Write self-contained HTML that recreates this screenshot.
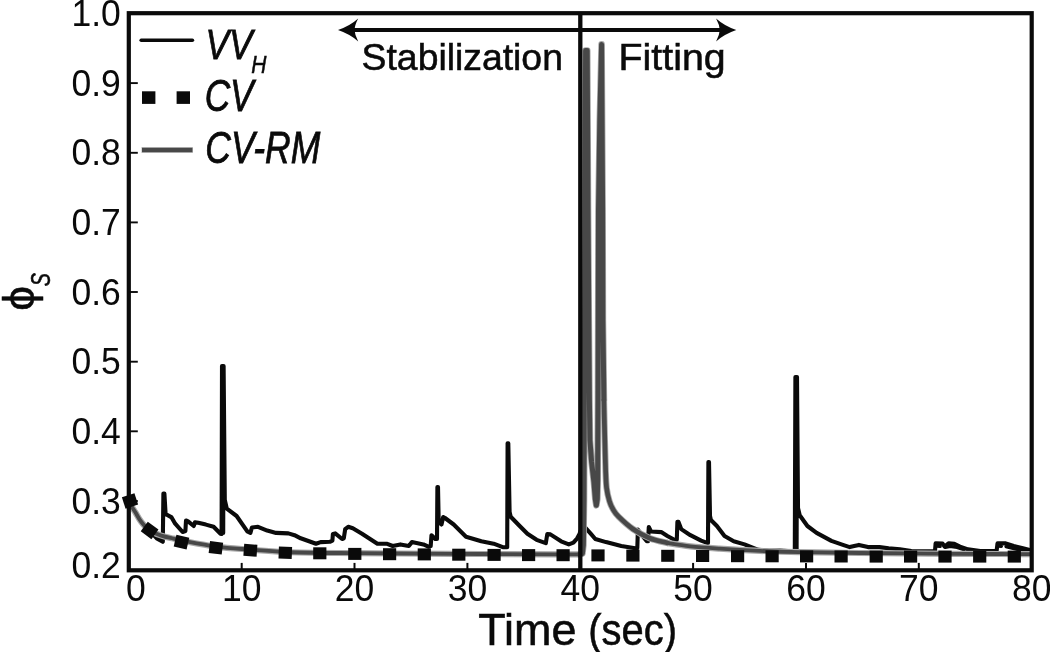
<!DOCTYPE html>
<html lang="en"><head><meta charset="utf-8"><title>Solid fraction vs time</title>
<style>
html,body{margin:0;padding:0;background:#fff;overflow:hidden}
body{width:1050px;height:652px}
svg{display:block;position:absolute;left:0;top:0;will-change:transform;-webkit-font-smoothing:antialiased}
text{font-family:"Liberation Sans",Arial,Helvetica,sans-serif;fill:#0a0a0a}
.tk{font-size:35.5px}
.it{font-style:italic}
.hv{stroke:#0a0a0a;stroke-width:0.55px}
.h2{stroke-width:0.8px}
</style></head><body>
<svg width="1050" height="652" viewBox="0 0 1050 652">
<rect x="0" y="0" width="1050" height="652" fill="#fff"/>
<g fill="none" stroke-linejoin="round" stroke-linecap="round">
<path d="M129.0,500.6 L132.0,507.0 L135.7,512.8 L141.2,521.8 L149.5,530.4 L156.8,538.4 L162.8,541.8 L163.4,493.6 L164.4,493.6 L165.6,514.0 L171.6,517.4 L175.2,523.7 L182.6,532.0 L185.4,531.0 L186.0,520.5 L188.1,521.4 L193.7,526.0 L195.0,522.3 L198.3,522.8 L205.9,524.6 L213.6,526.8 L220.5,533.7 L221.6,534.0 L222.0,366.0 L223.2,533.0 L223.6,366.0 L224.8,500.0 L226.8,508.6 L236.6,516.0 L247.3,531.4 L250.4,532.9 L251.9,527.5 L258.0,526.8 L267.2,530.6 L276.1,532.9 L288.4,533.4 L294.5,535.2 L300.7,538.3 L316.0,543.7 L320.6,542.1 L329.8,541.8 L332.4,540.6 L332.9,533.9 L335.2,533.4 L342.1,539.0 L343.8,538.3 L345.2,529.1 L348.2,526.8 L352.8,528.3 L362.0,533.7 L377.4,543.7 L386.6,543.7 L392.7,546.0 L400.4,544.4 L408.8,546.0 L411.9,542.1 L423.4,544.4 L428.4,546.7 L430.7,546.0 L431.5,535.2 L435.3,539.0 L437.0,539.0 L437.4,487.0 L438.0,487.0 L438.7,522.0 L441.5,524.5 L443.2,517.0 L445.0,518.0 L453.7,524.5 L466.0,536.7 L481.3,541.3 L493.6,543.7 L502.8,547.2 L507.2,547.2 L507.6,443.2 L508.3,443.2 L509.6,512.0 L510.7,516.8 L518.2,524.5 L527.4,533.7 L536.6,539.8 L545.8,543.2 L547.3,534.0 L550.4,534.4 L561.1,541.3 L568.8,544.4 L573.4,542.6 L577.2,538.3 L579.5,534.0 L582.0,527.0 L585.3,527.6 L590.7,533.7 L595.3,539.0 L606.0,542.1 L621.3,546.0 L635.2,548.3 L637.3,548.3 L637.9,529.6 L641.0,534.2 L646.8,541.3 L648.0,541.3 L648.8,527.0 L651.0,531.5 L661.2,532.1 L667.4,536.0 L674.3,539.8 L676.8,539.8 L677.4,521.8 L678.4,521.8 L681.2,529.1 L690.4,535.2 L701.1,540.6 L707.2,542.9 L708.0,542.9 L708.4,462.0 L709.0,462.0 L710.0,516.0 L710.9,520.0 L716.9,526.0 L724.5,536.0 L733.7,541.3 L744.5,544.4 L758.3,549.8 L769.0,550.9 L779.8,550.6 L792.0,551.3 L794.8,551.3 L795.4,377.0 L796.6,551.0 L797.0,377.0 L798.0,508.0 L799.7,515.3 L807.4,526.0 L816.6,532.9 L831.4,540.9 L842.9,544.9 L849.7,547.1 L858.9,544.9 L868.0,547.1 L879.4,547.1 L888.6,548.3 L900.0,549.4 L911.4,551.1 L935.0,551.2 L935.6,543.4 L942.6,543.6 L944.6,546.6 L948.6,543.2 L954.3,543.8 L960.0,546.6 L968.0,549.4 L980.3,551.0 L996.6,551.0 L997.5,543.4 L1005.7,543.4 L1013.7,546.0 L1022.9,548.3 L1029.7,550.0" stroke="#0a0a0a" stroke-width="4.1"/>
<path d="M936.6,546.2 L940.2,546.4 M945.4,547.4 L950.0,546.4 L957.0,547.4 L964.0,549.8 M998.6,546.2 L1001.4,546.4 M1006.0,546.6 L1012.0,548.2 L1020.0,550.0 L1029.0,551.6" stroke="#0a0a0a" stroke-width="3.2"/>
<path d="M129.0,500.6 C129.5,501.7 130.9,505.0 132.0,507.0 C133.1,509.0 134.2,510.3 135.7,512.8 C137.2,515.3 138.9,518.9 141.2,521.8 C143.5,524.7 146.1,528.1 149.5,530.4 C152.9,532.7 157.4,534.2 161.4,535.6 C165.4,537.0 170.0,537.8 173.4,538.6 C176.8,539.4 174.6,539.3 181.7,540.6 C188.8,541.9 204.6,545.1 216.0,546.6 C227.4,548.1 238.5,548.7 250.0,549.6 C261.5,550.5 270.0,551.4 285.0,552.0 C300.0,552.6 320.8,552.8 340.0,553.0 C359.2,553.2 376.7,553.3 400.0,553.5 C423.3,553.7 453.3,553.9 480.0,554.0 C506.7,554.1 543.4,554.2 560.0,554.3 C576.6,554.4 576.2,554.4 579.5,554.4" stroke="#a8a8a8" stroke-width="6.2"/>
<path d="M667.4,542.9 C671.2,543.5 681.7,545.3 690.4,546.3 C699.1,547.2 707.9,547.8 719.5,548.6 C731.1,549.4 746.6,550.3 760.0,550.9 C773.4,551.5 783.3,551.9 800.0,552.2 C816.7,552.6 838.3,552.8 860.0,553.0 C881.7,553.2 906.7,553.5 930.0,553.7 C953.3,553.9 983.3,553.9 1000.0,554.0 C1016.7,554.1 1025.0,554.1 1030.0,554.1" stroke="#a8a8a8" stroke-width="6.2"/>
<path d="M603.9,400.0 C604.0,406.7 604.5,428.3 604.8,440.0 C605.1,451.7 605.3,462.0 605.6,470.0 C605.9,478.0 606.0,482.8 606.6,488.0 C607.2,493.2 608.4,497.6 609.5,501.3 C610.6,505.0 611.9,507.4 613.4,510.0 C614.9,512.6 615.4,513.5 618.6,516.7 C621.9,519.9 627.7,525.4 632.9,529.0 C638.1,532.6 644.0,535.9 649.8,538.2 C655.5,540.5 664.5,542.1 667.4,542.9" stroke="#a8a8a8" stroke-width="6.4"/>
<path d="M579.5,554.4 L582.4,553.5 L583.4,545.0 L584.0,500.0 L584.6,300.0 L585.6,50.6 L587.2,50.6 L588.0,206.0 L588.8,320.0 L589.4,400.0 L589.9,440.0 L591.6,462.0 L593.9,482.0 L595.3,499.0 L596.3,505.3 L597.3,499.0 L597.7,480.0 L597.8,440.0 L598.0,400.0 L598.2,320.0 L598.5,210.0 L599.8,120.0 L601.6,44.4 L602.6,210.0 L602.9,320.0 L603.9,400.0" stroke="#a8a8a8" stroke-width="6.6"/>
<path d="M129.0,500.6 C129.5,501.7 130.9,505.0 132.0,507.0 C133.1,509.0 134.2,510.3 135.7,512.8 C137.2,515.3 138.9,518.9 141.2,521.8 C143.5,524.7 146.1,528.1 149.5,530.4 C152.9,532.7 157.4,534.2 161.4,535.6 C165.4,537.0 170.0,537.8 173.4,538.6 C176.8,539.4 174.6,539.3 181.7,540.6 C188.8,541.9 204.6,545.1 216.0,546.6 C227.4,548.1 238.5,548.7 250.0,549.6 C261.5,550.5 270.0,551.4 285.0,552.0 C300.0,552.6 320.8,552.8 340.0,553.0 C359.2,553.2 376.7,553.3 400.0,553.5 C423.3,553.7 453.3,553.9 480.0,554.0 C506.7,554.1 543.4,554.2 560.0,554.3 C576.6,554.4 576.2,554.4 579.5,554.4" stroke="#484848" stroke-width="3.8"/>
<path d="M667.4,542.9 C671.2,543.5 681.7,545.3 690.4,546.3 C699.1,547.2 707.9,547.8 719.5,548.6 C731.1,549.4 746.6,550.3 760.0,550.9 C773.4,551.5 783.3,551.9 800.0,552.2 C816.7,552.6 838.3,552.8 860.0,553.0 C881.7,553.2 906.7,553.5 930.0,553.7 C953.3,553.9 983.3,553.9 1000.0,554.0 C1016.7,554.1 1025.0,554.1 1030.0,554.1" stroke="#484848" stroke-width="3.8"/>
<path d="M603.9,400.0 C604.0,406.7 604.5,428.3 604.8,440.0 C605.1,451.7 605.3,462.0 605.6,470.0 C605.9,478.0 606.0,482.8 606.6,488.0 C607.2,493.2 608.4,497.6 609.5,501.3 C610.6,505.0 611.9,507.4 613.4,510.0 C614.9,512.6 615.4,513.5 618.6,516.7 C621.9,519.9 627.7,525.4 632.9,529.0 C638.1,532.6 644.0,535.9 649.8,538.2 C655.5,540.5 664.5,542.1 667.4,542.9" stroke="#484848" stroke-width="4.7"/>
<path d="M579.5,554.4 L582.4,553.5 L583.4,545.0 L584.0,500.0 L584.6,300.0 L585.6,50.6 L587.2,50.6 L588.0,206.0 L588.8,320.0 L589.4,400.0 L589.9,440.0 L591.6,462.0 L593.9,482.0 L595.3,499.0 L596.3,505.3 L597.3,499.0 L597.7,480.0 L597.8,440.0 L598.0,400.0 L598.2,320.0 L598.5,210.0 L599.8,120.0 L601.6,44.4 L602.6,210.0 L602.9,320.0 L603.9,400.0" stroke="#484848" stroke-width="5.0"/>
</g>
<g fill="#0a0a0a">
<rect x="123.4" y="494.9" width="13.2" height="12.0" transform="rotate(-18 130.0 500.9)"/>
<rect x="143.0" y="524.4" width="13.2" height="12.0" transform="rotate(36 149.6 530.4)"/>
<rect x="174.9" y="536.2" width="13.2" height="12.0" transform="rotate(13 181.5 542.2)"/>
<rect x="209.3" y="541.8" width="13.2" height="12.0" transform="rotate(7 215.9 547.8)"/>
<rect x="243.8" y="544.3" width="13.2" height="12.0" transform="rotate(4 250.4 550.3)"/>
<rect x="278.7" y="546.7" width="13.2" height="12.0" transform="rotate(2 285.3 552.7)"/>
<rect x="313.2" y="547.3" width="13.2" height="12.0" transform="rotate(0 319.8 553.3)"/>
<rect x="348.2" y="547.9" width="13.2" height="12.0" transform="rotate(0 354.8 553.9)"/>
<rect x="383.0" y="548.2" width="13.2" height="12.0" transform="rotate(0 389.6 554.2)"/>
<rect x="417.7" y="548.4" width="13.2" height="12.0" transform="rotate(0 424.3 554.4)"/>
<rect x="452.2" y="548.7" width="13.2" height="12.0" transform="rotate(0 458.8 554.7)"/>
<rect x="487.5" y="548.9" width="13.2" height="12.0" transform="rotate(0 494.1 554.9)"/>
<rect x="522.0" y="549.1" width="13.2" height="12.0" transform="rotate(0 528.6 555.1)"/>
<rect x="556.5" y="549.2" width="13.2" height="12.0" transform="rotate(0 563.1 555.2)"/>
<rect x="591.4" y="549.4" width="13.2" height="12.0" transform="rotate(0 598.0 555.4)"/>
<rect x="626.3" y="549.6" width="13.2" height="12.0" transform="rotate(0 632.9 555.6)"/>
<rect x="661.2" y="549.8" width="13.2" height="12.0" transform="rotate(0 667.8 555.8)"/>
<rect x="696.0" y="550.0" width="13.2" height="12.0" transform="rotate(0 702.6 556.0)"/>
<rect x="731.0" y="550.2" width="13.2" height="12.0" transform="rotate(0 737.6 556.2)"/>
<rect x="765.5" y="550.3" width="13.2" height="12.0" transform="rotate(0 772.1 556.3)"/>
<rect x="800.0" y="550.4" width="13.2" height="12.0" transform="rotate(0 806.6 556.4)"/>
<rect x="834.5" y="550.5" width="13.2" height="12.0" transform="rotate(0 841.1 556.5)"/>
<rect x="869.6" y="550.6" width="13.2" height="12.0" transform="rotate(0 876.2 556.6)"/>
<rect x="904.0" y="550.6" width="13.2" height="12.0" transform="rotate(0 910.6 556.6)"/>
<rect x="938.4" y="550.6" width="13.2" height="12.0" transform="rotate(0 945.0 556.6)"/>
<rect x="973.1" y="550.6" width="13.2" height="12.0" transform="rotate(0 979.7 556.6)"/>
<rect x="1007.7" y="550.6" width="13.2" height="12.0" transform="rotate(0 1014.3 556.6)"/>
</g>
<g fill="none" stroke="#0a0a0a">
<rect x="128.8" y="13.2" width="902.9" height="557.1" stroke-width="4.2"/>
<line x1="580.3" y1="13.2" x2="580.3" y2="570.3" stroke-width="4.3"/>
<line x1="128.8" y1="83.1" x2="137.8" y2="83.1" stroke-width="1.9"/>
<line x1="128.8" y1="152.8" x2="137.8" y2="152.8" stroke-width="1.9"/>
<line x1="128.8" y1="222.4" x2="137.8" y2="222.4" stroke-width="1.9"/>
<line x1="128.8" y1="292.0" x2="137.8" y2="292.0" stroke-width="1.9"/>
<line x1="128.8" y1="361.7" x2="137.8" y2="361.7" stroke-width="1.9"/>
<line x1="128.8" y1="431.3" x2="137.8" y2="431.3" stroke-width="1.9"/>
<line x1="128.8" y1="501.0" x2="137.8" y2="501.0" stroke-width="1.9"/>
<line x1="241.7" y1="570.3" x2="241.7" y2="562.9" stroke-width="2.0"/>
<line x1="354.5" y1="570.3" x2="354.5" y2="562.9" stroke-width="2.0"/>
<line x1="467.4" y1="570.3" x2="467.4" y2="562.9" stroke-width="2.0"/>
<line x1="580.2" y1="570.3" x2="580.2" y2="562.9" stroke-width="2.0"/>
<line x1="693.1" y1="570.3" x2="693.1" y2="562.9" stroke-width="2.0"/>
<line x1="806.0" y1="570.3" x2="806.0" y2="562.9" stroke-width="2.0"/>
<line x1="918.8" y1="570.3" x2="918.8" y2="562.9" stroke-width="2.0"/>
</g>
<text class="tk" transform="translate(120.8 26.0) scale(1 1.02)" text-anchor="end">1.0</text>
<text class="tk" transform="translate(120.8 95.6) scale(1 1.02)" text-anchor="end">0.9</text>
<text class="tk" transform="translate(120.8 165.3) scale(1 1.02)" text-anchor="end">0.8</text>
<text class="tk" transform="translate(120.8 234.9) scale(1 1.02)" text-anchor="end">0.7</text>
<text class="tk" transform="translate(120.8 304.5) scale(1 1.02)" text-anchor="end">0.6</text>
<text class="tk" transform="translate(120.8 374.2) scale(1 1.02)" text-anchor="end">0.5</text>
<text class="tk" transform="translate(120.8 443.8) scale(1 1.02)" text-anchor="end">0.4</text>
<text class="tk" transform="translate(120.8 513.5) scale(1 1.02)" text-anchor="end">0.3</text>
<text class="tk" transform="translate(120.8 578.0) scale(1 1.02)" text-anchor="end">0.2</text>
<text class="tk" transform="translate(135.8 600.9) scale(1 1.02)" text-anchor="middle">0</text>
<text class="tk" transform="translate(241.7 600.9) scale(1 1.02)" text-anchor="middle">10</text>
<text class="tk" transform="translate(354.5 600.9) scale(1 1.02)" text-anchor="middle">20</text>
<text class="tk" transform="translate(467.4 600.9) scale(1 1.02)" text-anchor="middle">30</text>
<text class="tk" transform="translate(580.2 600.9) scale(1 1.02)" text-anchor="middle">40</text>
<text class="tk" transform="translate(693.1 600.9) scale(1 1.02)" text-anchor="middle">50</text>
<text class="tk" transform="translate(806.0 600.9) scale(1 1.02)" text-anchor="middle">60</text>
<text class="tk" transform="translate(918.8 600.9) scale(1 1.02)" text-anchor="middle">70</text>
<text class="tk" transform="translate(1031.7 600.9) scale(1 1.02)" text-anchor="middle">80</text>
<line x1="141.2" y1="40.2" x2="192.4" y2="40.2" stroke="#0a0a0a" stroke-width="3.6" stroke-linecap="round"/>
<rect x="142" y="91.3" width="13.4" height="12.6" fill="#0a0a0a"/>
<rect x="176.6" y="91.3" width="13.4" height="12.6" fill="#0a0a0a"/>
<line x1="141.6" y1="150" x2="192.8" y2="150" stroke="#a8a8a8" stroke-width="6"/>
<line x1="142" y1="150" x2="192.4" y2="150" stroke="#484848" stroke-width="3.8"/>
<text transform="translate(205.4 58.5) scale(0.812 1)" font-size="43.4" class="hv it h2">VV</text>
<text transform="translate(251.3 73.0) scale(0.850 1)" font-size="24.7" class="hv it">H</text>
<text transform="translate(204.7 111.0) scale(0.800 1)" font-size="44.0" class="hv it h2">CV</text>
<text transform="translate(205.3 162.7) scale(0.806 1)" font-size="44.0" class="hv it h2">CV-RM</text>
<line x1="350" y1="30.1" x2="724" y2="30.1" stroke="#0a0a0a" stroke-width="4"/>
<path d="M338,30.1 Q350,26 358.2,18.6 Q354.8,25 354.5,30.1 Q354.8,35.2 358.2,41.5 Q350,34.2 338,30.1 Z" fill="#0a0a0a"/>
<path d="M736.3,30.1 Q724.3,26 716.1,18.6 Q719.5,25 719.8,30.1 Q719.5,35.2 716.1,41.5 Q724.3,34.2 736.3,30.1 Z" fill="#0a0a0a"/>
<text transform="translate(361.6 70.3) scale(0.996 1)" font-size="37.5" class="hv ">Stabilization</text>
<text transform="translate(618.6 70.1) scale(1.048 1)" font-size="37.5" class="hv ">Fitting</text>
<text transform="translate(478.3 644.9) scale(1.021 1)" font-size="44.0" class="hv ">Time</text>
<text transform="translate(588.2 644.9) scale(0.908 1)" font-size="44.0" class="hv ">(sec)</text>
<g transform="translate(34.4 310.7) rotate(-90)">
<text x="0" y="0" font-size="44" class="hv">ϕ</text>
<text transform="translate(24.4 15.1) scale(0.72 1)" font-size="27.4" class="it hv">S</text>
</g>
</svg></body></html>
